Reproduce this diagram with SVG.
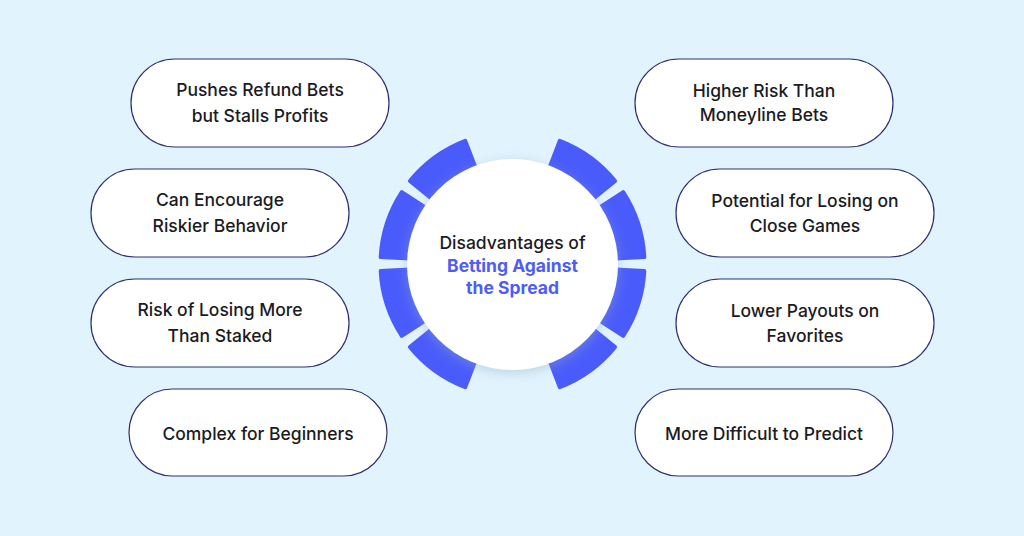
<svg xmlns="http://www.w3.org/2000/svg" xmlns:xlink="http://www.w3.org/1999/xlink" width="1024" height="536" viewBox="0 0 1024 536">
  <defs>
    <style>
      .pill { fill: #ffffff; stroke: #2d3170; stroke-width: 1.2; }
      .lbl { font-family: Inter, "Noto Sans", "Liberation Sans", sans-serif; font-size: 17.5px; font-weight: 500; fill: #1b1b1f; text-anchor: middle; }
      .seg { fill: #4a5bfb; stroke: #4a5bfb; stroke-width: 4; stroke-linejoin: round; }
      .title { font-family: Inter, "Noto Sans", "Liberation Sans", sans-serif; font-size: 17.5px; text-anchor: middle; }
      .title-dark { fill: #1b1b1f; font-weight: 500; }
      .title-blue { fill: #4d5df5; font-weight: 700; }
    </style>
    <filter id="shadow" x="-30%" y="-30%" width="160%" height="160%">
      <feDropShadow dx="0" dy="3" stdDeviation="6" flood-color="#8fb0c4" flood-opacity="0.45"/>
    </filter>
    <g id="rightSegs">
      <path class="seg" d="M 559.81 140.76 A 132 132 0 0 1 615.08 180.93 L 588.66 202.33 A 98 98 0 0 0 547.62 172.51 Z"/>
      <path class="seg" d="M 623.21 192.11 A 132 132 0 0 1 644.32 257.10 L 610.36 258.87 A 98 98 0 0 0 594.69 210.63 Z"/>
      <path class="seg" d="M 644.32 270.90 A 132 132 0 0 1 623.21 335.89 L 594.69 317.37 A 98 98 0 0 0 610.36 269.13 Z"/>
      <path class="seg" d="M 615.08 347.07 A 132 132 0 0 1 559.81 387.24 L 547.62 355.49 A 98 98 0 0 0 588.66 325.67 Z"/>
    </g>
  </defs>

  <rect x="0" y="0" width="1024" height="536" fill="#e1f3fd"/>

  <g id="center">
    <use xlink:href="#rightSegs"/>
    <use xlink:href="#rightSegs" transform="translate(1025,0) scale(-1,1)"/>
    <circle cx="512.5" cy="264.5" r="105.5" fill="#ffffff" filter="url(#shadow)"/>
    <text class="title title-dark" x="512.5" y="249">Disadvantages of</text>
    <text class="title title-blue" x="512.5" y="272">Betting Against</text>
    <text class="title title-blue" x="512.5" y="294">the Spread</text>
  </g>

  <g id="node-l1">
    <rect class="pill" x="131" y="59" width="258" height="88" rx="44"/>
    <text class="lbl" x="260" y="96">Pushes Refund Bets</text>
    <text class="lbl" x="260" y="122">but Stalls Profits</text>
  </g>
  <g id="node-l2">
    <rect class="pill" x="91" y="169" width="258" height="88" rx="44"/>
    <text class="lbl" x="220" y="206">Can Encourage</text>
    <text class="lbl" x="220" y="232">Riskier Behavior</text>
  </g>
  <g id="node-l3">
    <rect class="pill" x="91" y="279" width="258" height="88" rx="44"/>
    <text class="lbl" x="220" y="316">Risk of Losing More</text>
    <text class="lbl" x="220" y="342">Than Staked</text>
  </g>
  <g id="node-l4">
    <rect class="pill" x="129" y="389" width="258" height="87" rx="43.5"/>
    <text class="lbl" x="258" y="440">Complex for Beginners</text>
  </g>

  <g id="node-r1">
    <rect class="pill" x="635" y="59" width="258" height="88" rx="44"/>
    <text class="lbl" x="764" y="97">Higher Risk Than</text>
    <text class="lbl" x="764" y="121">Moneyline Bets</text>
  </g>
  <g id="node-r2">
    <rect class="pill" x="676" y="169" width="258" height="88" rx="44"/>
    <text class="lbl" x="805" y="207">Potential for Losing on</text>
    <text class="lbl" x="805" y="232">Close Games</text>
  </g>
  <g id="node-r3">
    <rect class="pill" x="676" y="279" width="258" height="88" rx="44"/>
    <text class="lbl" x="805" y="317">Lower Payouts on</text>
    <text class="lbl" x="805" y="342">Favorites</text>
  </g>
  <g id="node-r4">
    <rect class="pill" x="635" y="389" width="258" height="87" rx="43.5"/>
    <text class="lbl" x="764" y="440">More Difficult to Predict</text>
  </g>

  <g id="connectors"></g>
</svg>
